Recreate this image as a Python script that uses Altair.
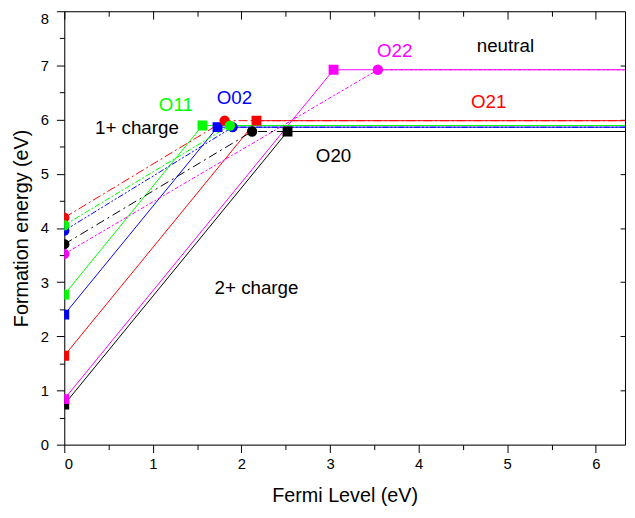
import altair as alt
import pandas as pd

# ---- data ----
series = ["O21", "O20", "O22", "O02", "O11"]
colors = ["#ff0000", "#000000", "#ff00ff", "#0000ff", "#00ff00"]
e_neutral = [5.98, 5.78, 6.92, 5.86, 5.89]
e_2plus_at0 = [1.64, 0.74, 0.84, 2.40, 2.77]
trans_2plus = [2.17, 2.52, 3.04, 1.73, 1.56]
e_1plus_at0 = [4.19, 3.70, 3.52, 3.95, 4.05]
trans_1plus = [1.81, 2.12, 3.54, 1.90, 1.87]
dash_patterns = [[9, 3, 2, 3], [9, 4, 2, 4], [4, 2, 2, 2], [6, 2, 2, 2, 2, 2], [6, 2, 2, 2]]

x_max = 6.33
y_max = 8
x_major = [0, 1, 2, 3, 4, 5, 6]
x_minor = [0.5, 1.5, 2.5, 3.5, 4.5, 5.5]
y_major = [0, 1, 2, 3, 4, 5, 6, 7, 8]
y_minor = [0.5, 1.5, 2.5, 3.5, 4.5, 5.5, 6.5, 7.5]
y_right = [1, 2, 3, 4, 5, 6, 7]

labels_text = ["1+ charge", "O11", "O02", "O22", "neutral", "O21", "O20", "2+ charge"]
labels_x = [0.82, 1.26, 1.92, 3.73, 4.98, 4.79, 3.04, 2.17]
labels_y = [5.85, 6.27, 6.40, 7.27, 7.35, 6.33, 5.33, 2.89]
labels_color = ["#000000", "#00ff00", "#0000ff", "#ff00ff", "#000000", "#ff0000", "#000000", "#000000"]

W, H = 568, 439
FONT = "Liberation Sans"

# ---- tables ----
solid_rows, dash_rows, sq_rows, ci_rows = [], [], [], []
for i, s in enumerate(series):
    solid_rows += [
        {"series": s, "x": 0, "y": e_2plus_at0[i]},
        {"series": s, "x": trans_2plus[i], "y": e_neutral[i]},
        {"series": s, "x": x_max, "y": e_neutral[i]},
    ]
    dash_rows += [
        {"series": s, "x": 0, "y": e_1plus_at0[i]},
        {"series": s, "x": trans_1plus[i], "y": e_neutral[i]},
        {"series": s, "x": x_max, "y": e_neutral[i]},
    ]
    sq_rows += [
        {"series": s, "x": 0, "y": e_2plus_at0[i]},
        {"series": s, "x": trans_2plus[i], "y": e_neutral[i]},
    ]
    ci_rows += [
        {"series": s, "x": 0, "y": e_1plus_at0[i]},
        {"series": s, "x": trans_1plus[i], "y": e_neutral[i]},
    ]
solid_df = pd.DataFrame(solid_rows)
dash_df = pd.DataFrame(dash_rows)
sq_df = pd.DataFrame(sq_rows)
ci_df = pd.DataFrame(ci_rows)
lab_df = pd.DataFrame({"text": labels_text, "x": labels_x, "y": labels_y, "c": labels_color})

xs = alt.Scale(domain=[0, x_max], nice=False, zero=False)
ys = alt.Scale(domain=[0, y_max], nice=False, zero=False)
cs = alt.Scale(domain=series, range=colors)
ds = alt.Scale(domain=series, range=dash_patterns)

common = dict(grid=False, domainColor="black", tickColor="black", labelColor="black",
              titleColor="black", domainWidth=1, tickWidth=1)

solid = alt.Chart(solid_df).mark_line(strokeWidth=1, clip=True).encode(
    x=alt.X("x:Q", scale=xs, axis=alt.Axis(
        orient="bottom", values=x_major, tickSize=8, labelPadding=4, labelFontSize=15,
        title="Fermi Level (eV)", titleFontSize=20, titleFontWeight="normal", titlePadding=15,
        labelFont=FONT, titleFont=FONT, **common)),
    y=alt.Y("y:Q", scale=ys, axis=alt.Axis(
        orient="left", values=y_major, tickSize=8, labelPadding=8, labelFontSize=15,
        labelBaseline={"condition": {"test": "datum.value == 8", "value": "top"}, "value": "middle"},
        title="Formation energy (eV)", titleFontSize=20, titleFontWeight="normal", titlePadding=9,
        labelFont=FONT, titleFont=FONT, **common)),
    color=alt.Color("series:N", scale=cs, legend=None),
    detail="series:N",
)

dash = alt.Chart(dash_df).mark_line(strokeWidth=1, clip=True).encode(
    x=alt.X("x:Q", scale=xs, axis=alt.Axis(
        orient="bottom", values=x_minor, tickSize=5, labels=False, domain=False, title=None, **common)),
    y=alt.Y("y:Q", scale=ys, axis=alt.Axis(
        orient="left", values=y_minor, tickSize=5, labels=False, domain=False, title=None, **common)),
    color=alt.Color("series:N", scale=cs, legend=None),
    strokeDash=alt.StrokeDash("series:N", scale=ds, legend=None),
    detail="series:N",
)

squares = alt.Chart(sq_df).mark_point(shape="square", filled=True, opacity=1, size=100, clip=True).encode(
    x=alt.X("x:Q", scale=xs, axis=alt.Axis(
        orient="bottom", offset=-H, values=x_major, tickSize=8, labels=False, title=None, **common)),
    y=alt.Y("y:Q", scale=ys, axis=alt.Axis(
        orient="left", offset=-W, values=y_right, tickSize=5, labels=False, title=None, **common)),
    color=alt.Color("series:N", scale=cs, legend=None),
)

circles = alt.Chart(ci_df).mark_point(shape="circle", filled=True, opacity=1, size=110, clip=True).encode(
    x=alt.X("x:Q", scale=xs, axis=alt.Axis(
        orient="bottom", offset=-H, values=x_minor, tickSize=5, labels=False, domain=False,
        title=None, **common)),
    y=alt.Y("y:Q", scale=ys, axis=None),
    color=alt.Color("series:N", scale=cs, legend=None),
)

texts = alt.Chart(lab_df).mark_text(font=FONT, fontSize=19, align="center", baseline="middle").encode(
    x=alt.X("x:Q", scale=xs, axis=None),
    y=alt.Y("y:Q", scale=ys, axis=None),
    text="text:N",
    color=alt.Color("c:N", scale=None, legend=None),
)

chart = alt.layer(solid, dash, squares, circles, texts).resolve_axis(
    x="independent", y="independent"
).properties(
    width=W, height=H,
    autosize=alt.AutoSizeParams(type="none"),
    padding={"left": 57, "top": 0, "right": 2, "bottom": 70},
    background="white",
).configure_view(stroke=None).configure(font=FONT)

chart.save("out.html", embed_options={"renderer": "svg", "actions": False})
